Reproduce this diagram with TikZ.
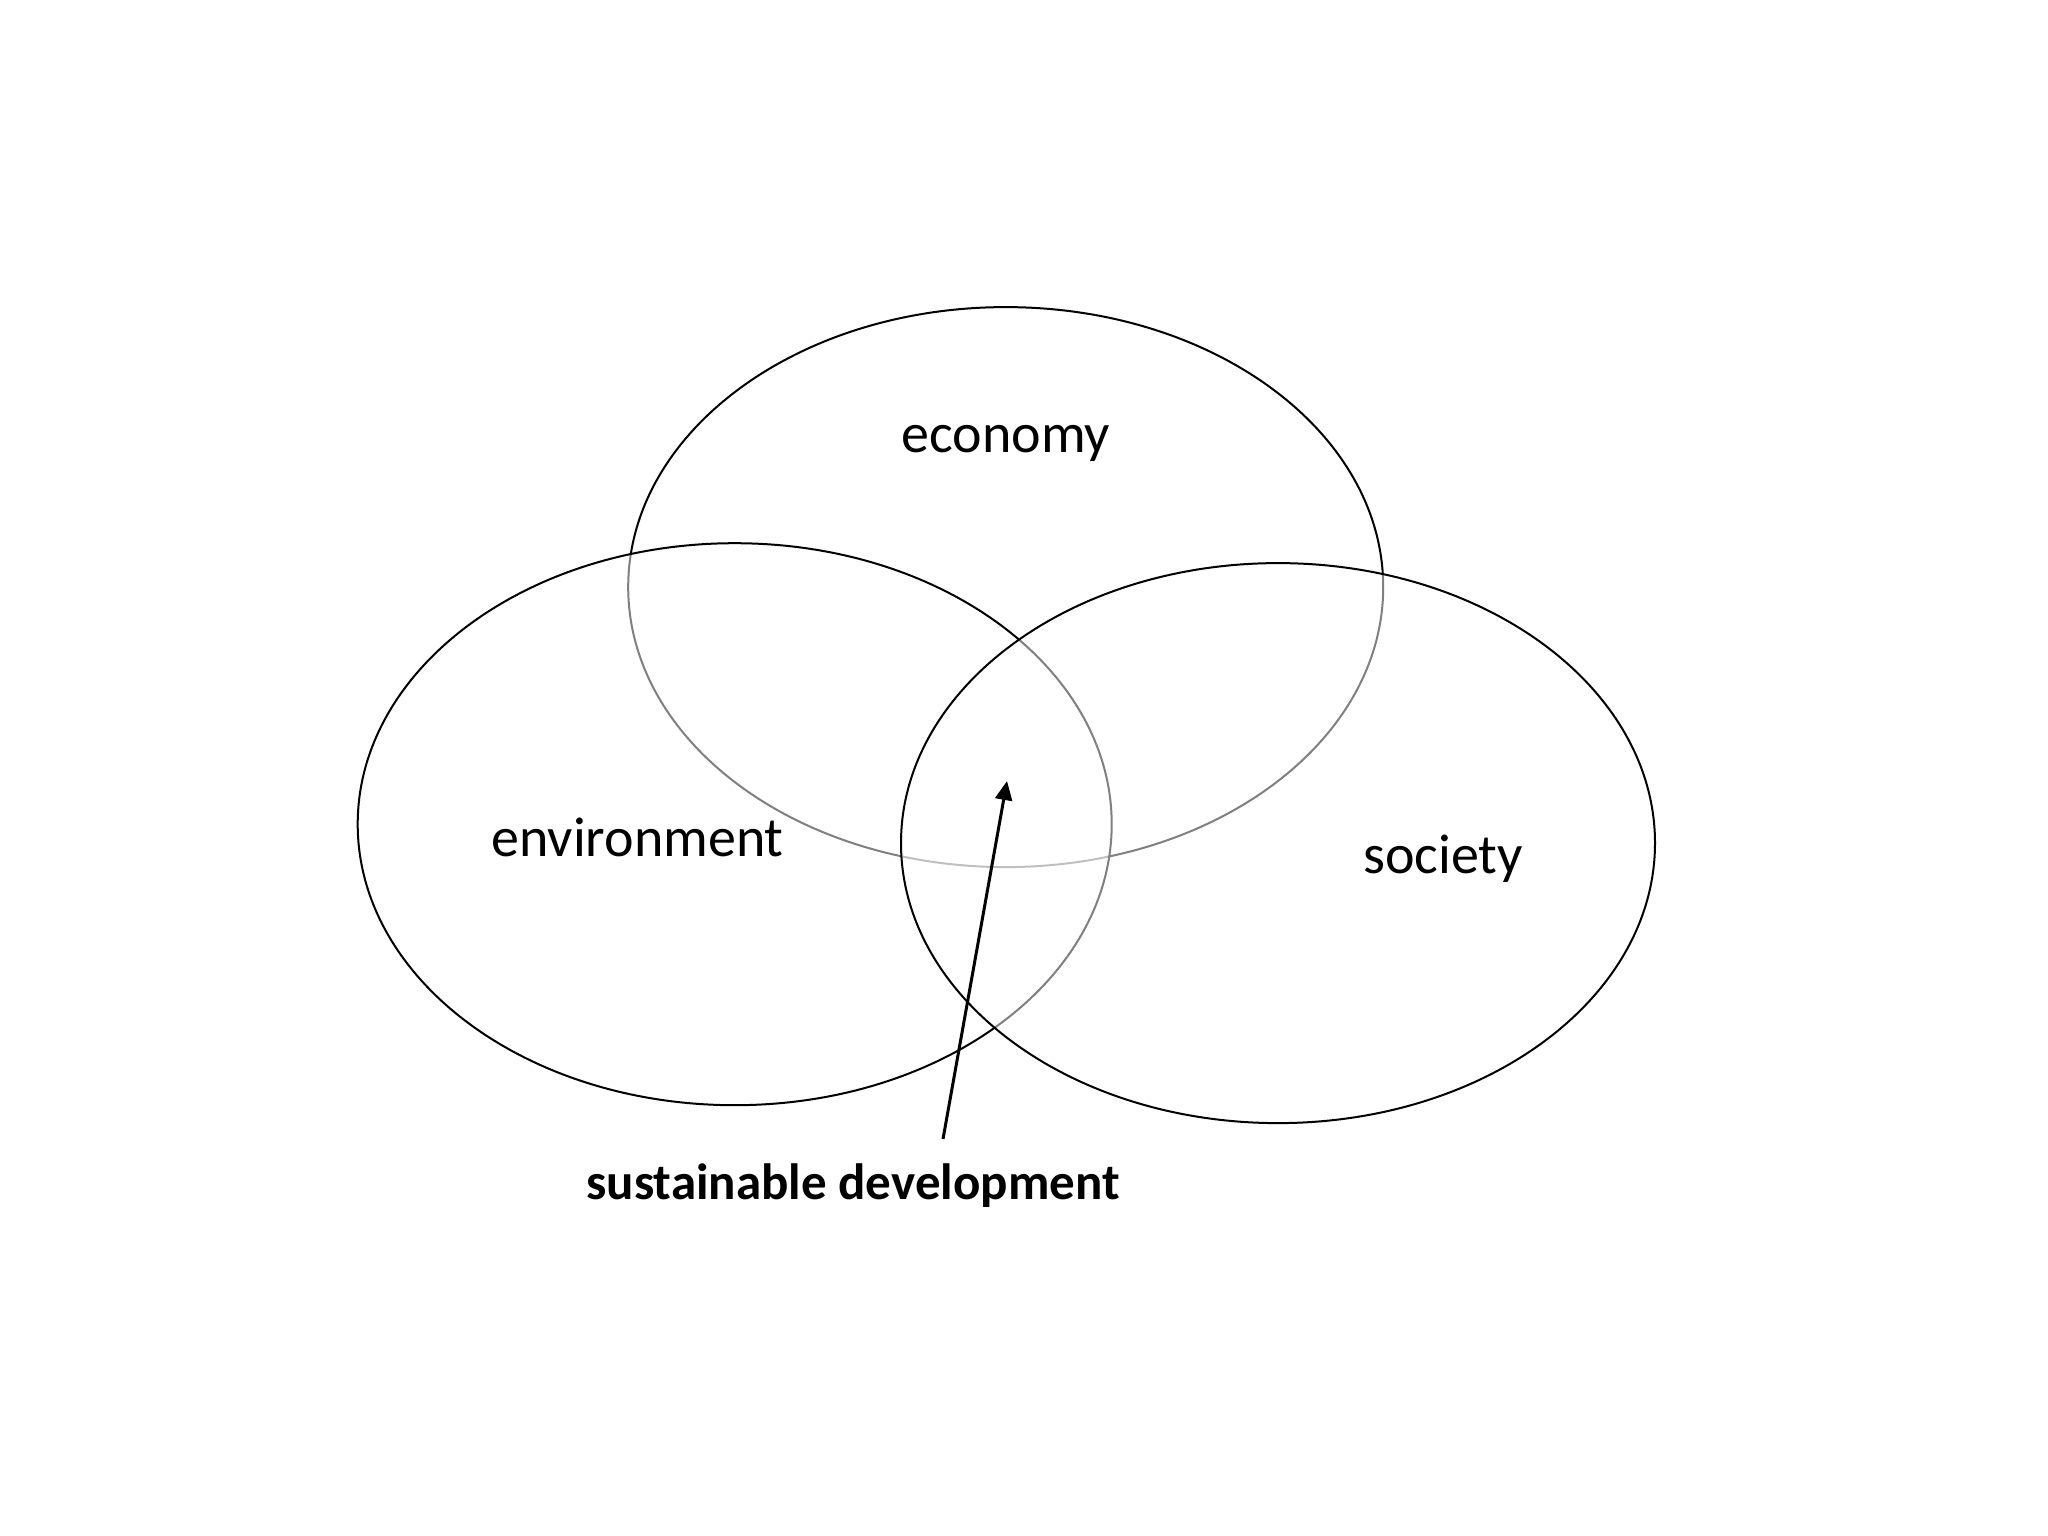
\documentclass[tikz,border=0pt]{standalone}
\usepackage{fontspec}
\setmainfont{Carlito}
\usetikzlibrary{shapes.geometric,arrows.meta}
\tikzset{
  setring/.style={ellipse, draw=black, line width=2pt, fill=white, fill opacity=0.5, inner sep=0pt, outer sep=0pt},
  lbl/.style={font=\fontsize{56}{64}\selectfont, anchor=base, inner sep=0pt},
  boldlbl/.style={font=\fontsize{51}{60}\selectfont\bfseries, anchor=base, inner sep=0pt},
  pointer/.style={line width=3pt, -{Triangle[width=17pt,length=19pt]}}
}
\begin{document}
\begin{tikzpicture}[x=1pt,y=-1pt]
\useasboundingbox (0,0) rectangle (2048,1536);
\fill[white] (0,0) rectangle (2048,1536);
\node[setring, minimum width=755pt, minimum height=560pt] (eco) at (1005.7,587.1) {};
\node[setring, minimum width=754pt, minimum height=562pt] (env) at (734.7,824.2) {};
\node[setring, minimum width=754pt, minimum height=560pt] (soc) at (1278,843.1) {};
\node[lbl] (ecol) at (1006,452) {economy};
\node[lbl] (envl) at (637.5,856) {environment};
\node[lbl] (socl) at (1443,873) {society};
\node[boldlbl] (sd) at (853,1199) {sustainable development};
\coordinate (tail) at (943,1139);
\coordinate (tip) at (1007,781);
\draw[pointer] (tail) -- (tip);
\end{tikzpicture}
\end{document}
